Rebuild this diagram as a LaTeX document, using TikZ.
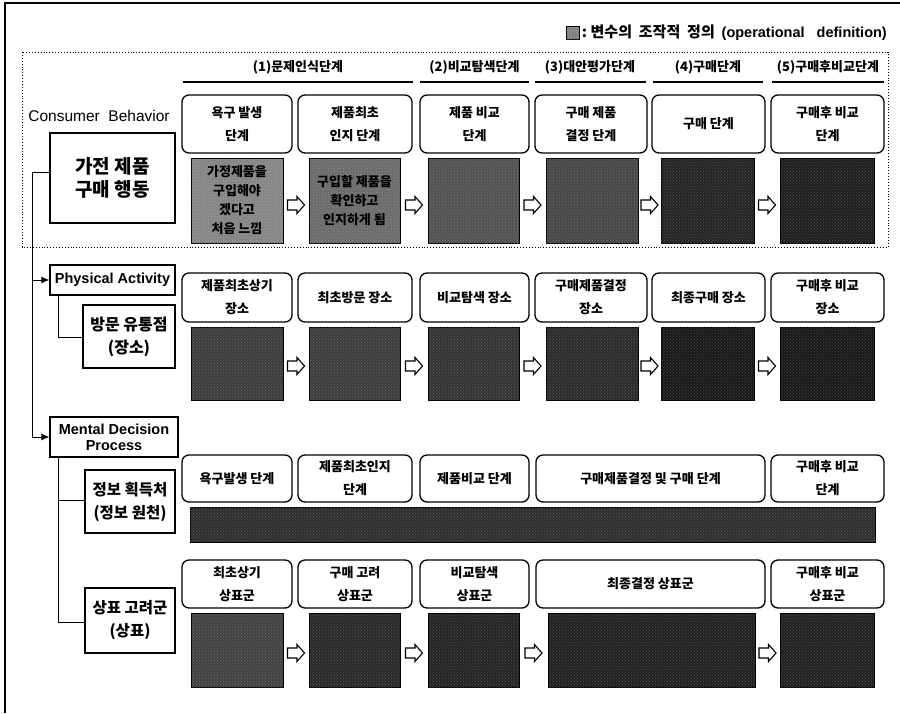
\documentclass[tikz,border=0pt]{standalone}
\usepackage{fontspec}
\setmainfont{Liberation Sans}
\newfontfamily\kr{Noto Sans CJK KR}
\usetikzlibrary{arrows.meta,patterns}
\begin{document}
\begin{tikzpicture}[x=1pt,y=-1pt,
  stagebox/.style={draw, rounded corners=7pt, line width=1.3pt, align=center, inner sep=0pt, font=\kr\bfseries\fontsize{13}{23}\selectfont},
  defbox/.style={draw, line width=0.8pt, inner sep=0pt, align=center, font=\kr\bfseries\fontsize{13}{19}\selectfont,
     postaction={pattern=crosshatch dots, pattern color=white, opacity=0.22}},
  leftbox/.style={draw, line width=1.3pt, inner sep=0pt, align=center},
  flowarr/.pic={\draw[line width=1.1pt, fill=white, line join=miter] (-8.5,-5) -- (1,-5) -- (1,-8.5) -- (8.5,0) -- (1,8.5) -- (1,5) -- (-8.5,5) -- cycle;},
  header/.style={font=\kr\bfseries\fontsize{13}{15}\selectfont, inner sep=0pt},
  link/.style={line width=0.9pt},
  tip/.style={-{Latex[length=8pt,width=7pt]}},
]
\useasboundingbox (0,0) rectangle (900,713);
\fill[white] (0,0) rectangle (900,713);
\draw[line width=1.3pt] (5,713) -- (5,3) -- (900,3);

% legend
\node[anchor=east, inner sep=0pt] (lgtext) at (887,33) {{\kr\bfseries\fontsize{15}{17}\selectfont :\ 변수의\ \ 조작적\ \ 정의\ \ }{\bfseries\fontsize{14.5}{17}\selectfont(operational\ \ \ definition)}};
\node[draw, fill=black!50, line width=0.6pt, minimum size=13pt, inner sep=0pt, anchor=east,
      postaction={pattern=crosshatch dots, pattern color=white, opacity=0.3}] (lgicon) at ([xshift=-2pt]lgtext.west) {};

% dotted frame
\draw[dotted, line width=0.9pt] (22,52) rectangle (888,247);

% stage headers
\node[header] (h1) at (298,67) {(1)문제인식단계};
\node[header] (h2) at (474.5,67) {(2)비교탐색단계};
\node[header] (h3) at (590,67) {(3)대안평가단계};
\node[header] (h4) at (708,67) {(4)구매단계};
\node[header] (h5) at (828,67) {(5)구매후비교단계};
\draw[line width=2pt] (183,82) -- (413,82);
\draw[line width=2pt] (420,82) -- (529,82);
\draw[line width=2pt] (535,82) -- (646,82);
\draw[line width=2pt] (653,82) -- (763,82);
\draw[line width=2pt] (772,82) -- (884,82);

\node[font=\fontsize{15.5}{18}\selectfont, inner sep=0pt] (cb) at (99,116) {Consumer\ \ Behavior};

% row 1
\node[stagebox, minimum width=110, minimum height=58] (a1) at (237,124) {욕구 발생\\단계};
\node[stagebox, minimum width=114, minimum height=58] (a2) at (355,124) {제품최초\\인지 단계};
\node[stagebox, minimum width=109, minimum height=58] (a3) at (474.5,124) {제품 비교\\단계};
\node[stagebox, minimum width=112, minimum height=58] (a4) at (591,124) {구매 제품\\결정 단계};
\node[stagebox, minimum width=113, minimum height=58] (a5) at (708.5,124) {구매 단계};
\node[stagebox, minimum width=113, minimum height=58] (a6) at (827.5,124) {구매후 비교\\단계};

\node[defbox, fill=black!48, minimum width=92, minimum height=85] (d1) at (237,200.5) {가정제품을\\구입해야\\겠다고\\처음 느낌};
\node[defbox, fill=black!58, minimum width=91, minimum height=85] (d2) at (354.5,200.5) {구입할 제품을\\확인하고\\인지하게 됨};
\node[defbox, fill=black!68, minimum width=91, minimum height=85] (d3) at (473.5,200.5) {};
\node[defbox, fill=black!72, minimum width=92, minimum height=85] (d4) at (592,200.5) {};
\node[defbox, fill=black!86, minimum width=93, minimum height=85] (d5) at (707.5,200.5) {};
\node[defbox, fill=black!88, minimum width=94, minimum height=85] (d6) at (827,200.5) {};
\pic (r1a) at (296,205) {flowarr};
\pic (r1b) at (414,205) {flowarr};
\pic (r1c) at (532.5,205) {flowarr};
\pic (r1d) at (649.5,205) {flowarr};
\pic (r1e) at (767,205) {flowarr};

% row 2
\node[stagebox, minimum width=110, minimum height=49] (b1) at (237,297.5) {제품최초상기\\장소};
\node[stagebox, minimum width=114, minimum height=49] (b2) at (355,297.5) {최초방문 장소};
\node[stagebox, minimum width=109, minimum height=49] (b3) at (474.5,297.5) {비교탐색 장소};
\node[stagebox, minimum width=112, minimum height=49] (b4) at (591,297.5) {구매제품결정\\장소};
\node[stagebox, minimum width=113, minimum height=49] (b5) at (708.5,297.5) {최종구매 장소};
\node[stagebox, minimum width=113, minimum height=49] (b6) at (827.5,297.5) {구매후 비교\\장소};

\node[defbox, fill=black!76, minimum width=92, minimum height=73] (e1) at (237,363.5) {};
\node[defbox, fill=black!76, minimum width=91, minimum height=73] (e2) at (354.5,363.5) {};
\node[defbox, fill=black!80, minimum width=91, minimum height=73] (e3) at (473.5,363.5) {};
\node[defbox, fill=black!83, minimum width=92, minimum height=73] (e4) at (592,363.5) {};
\node[defbox, fill=black!90, minimum width=93, minimum height=73] (e5) at (707.5,363.5) {};
\node[defbox, fill=black!90, minimum width=94, minimum height=73] (e6) at (827,363.5) {};
\pic (r2a) at (296,366) {flowarr};
\pic (r2b) at (414,366) {flowarr};
\pic (r2c) at (532.5,366) {flowarr};
\pic (r2d) at (649.5,366) {flowarr};
\pic (r2e) at (767,366) {flowarr};

% row 3
\node[stagebox, minimum width=110, minimum height=47] (c1) at (237,478.5) {욕구발생 단계};
\node[stagebox, minimum width=114, minimum height=47] (c2) at (355,478.5) {제품최초인지\\단계};
\node[stagebox, minimum width=109, minimum height=47] (c3) at (474.5,478.5) {제품비교 단계};
\node[stagebox, minimum width=229, minimum height=47] (c4) at (650.5,478.5) {구매제품결정 및 구매 단계};
\node[stagebox, minimum width=113, minimum height=47] (c5) at (827.5,478.5) {구매후 비교\\단계};
\node[defbox, fill=black!82, minimum width=685, minimum height=35] (f1) at (532.5,524.5) {};

% row 4
\node[stagebox, minimum width=110, minimum height=48] (g1) at (237,584) {최초상기\\상표군};
\node[stagebox, minimum width=114, minimum height=48] (g2) at (355,584) {구매 고려\\상표군};
\node[stagebox, minimum width=109, minimum height=48] (g3) at (474.5,584) {비교탐색\\상표군};
\node[stagebox, minimum width=229, minimum height=48] (g4) at (650.5,584) {최종결정 상표군};
\node[stagebox, minimum width=113, minimum height=48] (g5) at (827.5,584) {구매후 비교\\상표군};

\node[defbox, fill=black!74, minimum width=92, minimum height=74] (k1) at (237,650) {};
\node[defbox, fill=black!84, minimum width=91, minimum height=74] (k2) at (354.5,650) {};
\node[defbox, fill=black!86, minimum width=91, minimum height=74] (k3) at (473.5,650) {};
\node[defbox, fill=black!87, minimum width=207, minimum height=74] (k4) at (651.5,650) {};
\node[defbox, fill=black!87, minimum width=94, minimum height=74] (k5) at (827,650) {};
\pic (r4a) at (296,653) {flowarr};
\pic (r4b) at (414,653) {flowarr};
\pic (r4c) at (533.5,653) {flowarr};
\pic (r4d) at (767.5,653) {flowarr};

% left structure
\node[leftbox, line width=1.6pt, minimum width=125, minimum height=90, font=\kr\bfseries\fontsize{19}{23}\selectfont] (ga) at (112.5,178) {가전 제품\\구매 행동};
\node[leftbox, minimum width=125, minimum height=30, font=\bfseries\fontsize{14.5}{17}\selectfont] (pa) at (112.5,280) {Physical\ Activity};
\node[leftbox, minimum width=92, minimum height=63, font=\kr\bfseries\fontsize{16}{23}\selectfont] (vu) at (129,336.5) {방문 유통점\\(장소)};
\node[leftbox, minimum width=128, minimum height=40, font=\bfseries\fontsize{14.5}{16}\selectfont] (md) at (114,437) {Mental\ Decision\\Process};
\node[leftbox, minimum width=90, minimum height=63, font=\kr\bfseries\fontsize{15.5}{23}\selectfont] (ij) at (130,501.5) {정보 획득처\\(정보 원천)};
\node[leftbox, minimum width=90, minimum height=65, font=\kr\bfseries\fontsize{15.5}{23}\selectfont] (sp) at (130,620.5) {상표 고려군\\(상표)};

\coordinate (j0) at (32,172);
\coordinate (j1) at (32,280);
\coordinate (j2) at (32,437);
\draw[link, tip] (ga.west |- j0) -- (j0) -- (j2) -- (md.west);
\draw[link, tip] (j1) -- (pa.west);
\coordinate (m0) at (58,337);
\draw[link] (pa.south -| m0) -- (m0) -- (vu.west |- m0);
\coordinate (m1) at (58,500);
\coordinate (m2) at (58,622);
\draw[link] (md.south -| m2) -- (m2) -- (sp.west |- m2);
\draw[link] (m1) -- (ij.west |- m1);
\end{tikzpicture}
\end{document}
